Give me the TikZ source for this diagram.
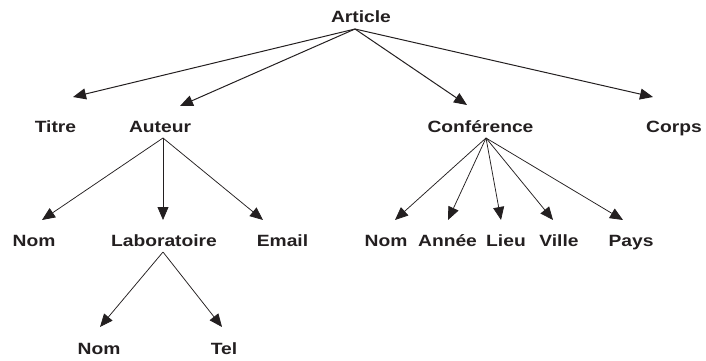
\documentclass[tikz,border=0pt]{standalone}
\usepackage{fontspec}
\setmainfont{Liberation Sans}[FakeStretch=1.18]
\usetikzlibrary{arrows.meta}
\definecolor{ink}{RGB}{35,31,32}
\begin{document}
\begin{tikzpicture}[x=1pt,y=-1pt,
  lbl/.style={font=\bfseries\fontsize{16.3}{18}\selectfont, text=ink, anchor=base, inner sep=0pt},
  arr/.style={draw=ink, line width=0.75pt, -{Triangle[length=13pt,width=11pt]}},
  arrtop/.style={arr, line width=1pt}]
\useasboundingbox (0,0) rectangle (706,361);
% labels
\node[lbl] (article) at (361,23) {Article};
\node[lbl] (titre) at (55.5,132) {Titre};
\node[lbl] (auteur) at (160,132) {Auteur};
\node[lbl] (conf) at (480.5,132) {Conférence};
\node[lbl] (corps) at (674,132) {Corps};
\node[lbl] (nom1) at (34,246.5) {Nom};
\node[lbl] (labo) at (164,246.5) {Laboratoire};
\node[lbl] (email) at (282.5,246.5) {Email};
\node[lbl] (nom2) at (386,246.5) {Nom};
\node[lbl] (annee) at (447.5,246.5) {Année};
\node[lbl] (lieu) at (506,246.5) {Lieu};
\node[lbl] (ville) at (559,246.5) {Ville};
\node[lbl] (pays) at (631,246.5) {Pays};
\node[lbl] (nom3) at (99,354) {Nom};
\node[lbl] (tel) at (224,354) {Tel};
% connector ends
\coordinate (articleOut) at (355,29);
\coordinate (titreIn) at (73,97);
\coordinate (auteurIn) at (180,106);
\coordinate (confIn) at (467,105);
\coordinate (corpsIn) at (653,97);
\coordinate (auteurOut) at (163,138);
\coordinate (nom1In) at (42,220);
\coordinate (laboIn) at (163,220);
\coordinate (emailIn) at (263,220);
\coordinate (laboOut) at (163,252);
\coordinate (nom3In) at (100,327);
\coordinate (telIn) at (222,327);
\coordinate (confOut) at (486,138);
\coordinate (nom2In) at (395,220);
\coordinate (anneeIn) at (448,220);
\coordinate (lieuIn) at (501,220);
\coordinate (villeIn) at (553,220);
\coordinate (paysIn) at (623,220);
% connectors
\draw[arrtop] (articleOut) -- (titreIn);
\draw[arrtop] (articleOut) -- (auteurIn);
\draw[arrtop] (articleOut) -- (confIn);
\draw[arrtop] (articleOut) -- (corpsIn);
\draw[arr] (auteurOut) -- (nom1In);
\draw[arr] (auteurOut) -- (laboIn);
\draw[arr] (auteurOut) -- (emailIn);
\draw[arr] (laboOut) -- (nom3In);
\draw[arr] (laboOut) -- (telIn);
\draw[arr] (confOut) -- (nom2In);
\draw[arr] (confOut) -- (anneeIn);
\draw[arr] (confOut) -- (lieuIn);
\draw[arr] (confOut) -- (villeIn);
\draw[arr] (confOut) -- (paysIn);
\end{tikzpicture}
\end{document}
